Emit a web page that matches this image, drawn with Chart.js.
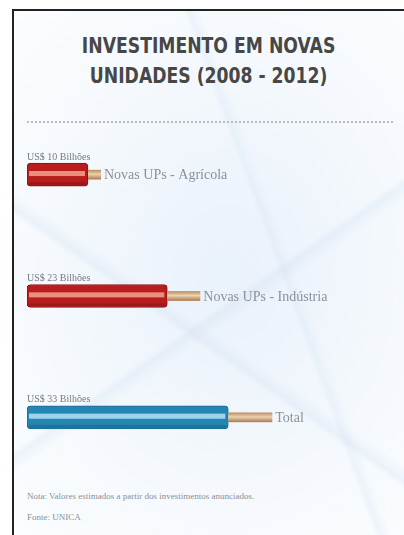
<!DOCTYPE html>
<html>
<head>
<meta charset="utf-8">
<script src="https://cdn.jsdelivr.net/npm/chart.js@4"></script>
<style>
  html, body { margin: 0; padding: 0; background: #fff; }
  #wrap { position: relative; width: 404px; height: 535px; overflow: hidden; }
  #frame {
    position: absolute; left: 12px; top: 9px; right: 0; bottom: 0;
    border-left: 2px solid #222; border-top: 2px solid #222;
    background:
      linear-gradient(35deg, rgba(200,220,240,0) 40%, rgba(205,222,240,0.3) 41%, rgba(200,220,240,0) 43%),
      linear-gradient(145deg, rgba(200,220,240,0) 55%, rgba(205,222,240,0.3) 56%, rgba(200,220,240,0) 58%),
      linear-gradient(70deg, rgba(200,220,240,0) 62%, rgba(205,222,240,0.25) 63%, rgba(200,220,240,0) 65%),
      radial-gradient(ellipse at 55% 50%, #e9f1fa 0%, #f5f9fd 60%, #fbfdff 100%);
  }
  #title {
    position: absolute; left: 14px; right: 0; top: 31px; text-align: center;
  }
  #title span {
    display: inline-block; transform: scaleX(0.82); transform-origin: 50% 50%;
    font-family: "DejaVu Sans", sans-serif;
    font-weight: bold; font-size: 21px; line-height: 30px; color: #474747;
  }
  #rule {
    position: absolute; left: 27px; width: 366px; top: 121px;
    border-top: 2px dotted #b8bcc2;
  }
  #foot {
    position: absolute; left: 27px; top: 486px;
    font-family: "Liberation Serif", serif; font-size: 9px; line-height: 21px; color: #8a8f96;
  }
  canvas { position: absolute; left: 0; top: 0; }
</style>
</head>
<body>
<div id="wrap">
  <div id="frame"></div>
  <div id="title"><span>INVESTIMENTO EM NOVAS<br>UNIDADES (2008 - 2012)</span></div>
  <div id="rule"></div>
  <div id="foot">Nota: Valores estimados a partir dos investimentos anunciados.<br>Fonte: UNICA</div>
  <canvas id="chart" width="404" height="535"></canvas>
</div>
<script>
// ---------- Data ----------
const categories = ["Novas UPs - Agrícola", "Novas UPs - Indústria", "Total"];
const values = [10, 23, 33];
const valueLabels = ["US$ 10 Bilhões", "US$ 23 Bilhões", "US$ 33 Bilhões"];

// ---------- Cable styles ----------
const cableColors = ["#b81c1c", "#b81c1c", "#2586b4"];
const stripeColors = ["#f0a48e", "#f0a48e", "#b4e2f6"];
const wireLen = [13, 33, 44];

const cablePlugin = {
  id: "cable",
  afterDatasetsDraw(chart) {
    const ctx = chart.ctx;
    const meta = chart.getDatasetMeta(0);
    meta.data.forEach((bar, i) => {
      const h = bar.height;
      const top = bar.y - h / 2;
      const left = bar.base;
      const right = bar.x;
      ctx.save();
      // highlight stripe
      ctx.fillStyle = stripeColors[i];
      ctx.globalAlpha = 0.85;
      ctx.fillRect(left + 2, top + h * 0.34, right - left - 5, h * 0.22);
      ctx.globalAlpha = 1;
      // darker lower edge
      ctx.fillStyle = "rgba(0,0,0,0.15)";
      ctx.fillRect(left + 2, top + h - 4, right - left - 4, 3);
      // copper wire
      const wh = h * 0.42;
      const g = ctx.createLinearGradient(0, bar.y - wh / 2, 0, bar.y + wh / 2);
      g.addColorStop(0, "#b98a5e");
      g.addColorStop(0.45, "#ecd2b0");
      g.addColorStop(1, "#a8784c");
      ctx.fillStyle = g;
      ctx.fillRect(right, bar.y - wh / 2, wireLen[i], wh);
      // labels
      ctx.fillStyle = "#747a82";
      ctx.font = "10px 'Liberation Serif', serif";
      ctx.textBaseline = "bottom";
      ctx.fillText(valueLabels[i], left, top - 1);
      ctx.font = "14px 'Liberation Serif', serif";
      ctx.fillStyle = "#8c9198";
      ctx.textBaseline = "middle";
      ctx.fillText(categories[i], right + wireLen[i] + 3, bar.y + 1);
      ctx.restore();
    });
  },
};

new Chart(document.getElementById("chart"), {
  type: "bar",
  data: {
    labels: categories,
    datasets: [{
      data: values,
      backgroundColor: cableColors,
      borderColor: ["#8a1010", "#8a1010", "#1a6a90"],
      borderWidth: 1,
      borderRadius: 4,
      borderSkipped: false,
      barThickness: 23,
    }],
  },
  options: {
    indexAxis: "y",
    responsive: false,
    animation: false,
    layout: { padding: { left: 27, right: 11, top: 114, bottom: 57 } },
    plugins: { legend: { display: false }, tooltip: { enabled: false } },
    scales: {
      x: { display: false, min: 0, max: 60 },
      y: { display: false },
    },
  },
  plugins: [cablePlugin],
});
</script>
</body>
</html>
